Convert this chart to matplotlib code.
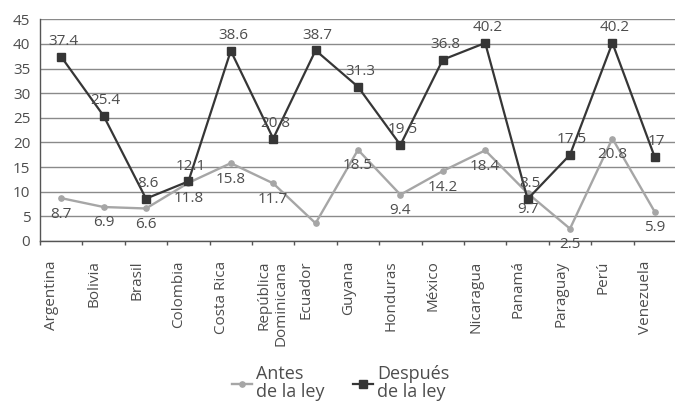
import matplotlib
matplotlib.use("Agg")
import matplotlib.pyplot as plt
from matplotlib.lines import Line2D
from matplotlib.transforms import ScaledTranslation
import numpy as np

plt.rcParams['font.family'] = ['Open Sans', 'DejaVu Sans']

# Countries and percentages before / after the law
paises = ["Argentina", "Bolivia", "Brasil", "Colombia", "Costa Rica",
          "República\nDominicana", "Ecuador", "Guyana", "Honduras", "México",
          "Nicaragua", "Panamá", "Paraguay", "Perú", "Venezuela"]
antes = [8.7, 6.9, 6.6, 11.8, 15.8, 11.7, 3.6, 18.5, 9.4, 14.2, 18.4, 9.7,
         2.5, 20.8, 5.9]
despues = [37.4, 25.4, 8.6, 12.1, 38.6, 20.8, 38.7, 31.3, 19.5, 36.8, 40.2,
           8.5, 17.5, 40.2, 17.0]
# which "antes" points carry a value label
antes_etiqueta = [True, True, True, True, True, True, False, True, True, True,
                  True, True, True, True, True]
y_ticks = [0, 5, 10, 15, 20, 25, 30, 35, 40, 45]

C_DARK = "#363636"
C_GRAY = "#a6a6a6"
C_TEXT = "#4d4d4d"
C_GRID = "#8a8a8a"
FS = 11

W, H = 675, 401
fig = plt.figure(figsize=(W / 100, H / 100), dpi=100)
ax = fig.add_axes([40 / W, (H - 241) / H, 636 / W, (241 - 19.3) / H])

x = np.arange(len(paises))
ax.plot(x, antes, color=C_GRAY, lw=1.7, marker="o", ms=3.8, zorder=3)
ax.plot(x, despues, color=C_DARK, lw=1.6, marker="s", ms=5.6, zorder=4)

# value labels: "después" above, "antes" below
for i, v in enumerate(despues):
    ax.annotate(f"{v:g}", (i, v), xytext=(1.5, 11), textcoords="offset points",
                ha="center", va="center", fontsize=FS, color=C_TEXT, zorder=5)
for i, v in enumerate(antes):
    if antes_etiqueta[i]:
        ax.annotate(f"{v:g}", (i, v), xytext=(0, -11.5), textcoords="offset points",
                    ha="center", va="center", fontsize=FS, color=C_TEXT, zorder=5)

ax.set_xlim(-0.5, len(paises) - 0.5)
ax.set_ylim(0, 45)
ax.set_yticks(y_ticks)
ax.yaxis.grid(True, color=C_GRID, lw=1.0)
ax.set_axisbelow(True)
ax.tick_params(axis="y", length=0, pad=7, labelsize=FS, labelcolor=C_TEXT)

ax.set_xticks(x)
ax.set_xticklabels(paises, rotation=90, ha="left", va="top",
                   multialignment="right", fontsize=FS, color=C_TEXT)
ax.set_xticks(np.arange(-0.5, len(paises), 1), minor=True)
ax.tick_params(axis="x", which="major", length=0, pad=14)
ax.tick_params(axis="x", which="minor", length=3.2, width=1.0, color="#555555")
shift = ScaledTranslation(-0.17, 0, fig.dpi_scale_trans)
for lbl in ax.get_xticklabels():
    lbl.set_transform(lbl.get_transform() + shift)

for s in ["top", "right"]:
    ax.spines[s].set_visible(False)
for s in ["left", "bottom"]:
    ax.spines[s].set_color("#555555")
    ax.spines[s].set_linewidth(1.0)

handles = [Line2D([], [], color=C_GRAY, lw=1.7, marker="o", ms=3.8),
           Line2D([], [], color=C_DARK, lw=1.6, marker="s", ms=5.6)]
leg = fig.legend(handles, ["Antes\nde la ley", "Después\nde la ley"], ncol=2,
                 loc="lower left", bbox_to_anchor=(232 / W, 0.0),
                 frameon=False, fontsize=13, handlelength=1.1,
                 handletextpad=0.25, columnspacing=1.55, borderpad=0,
                 borderaxespad=0)
for t in leg.get_texts():
    t.set_color(C_TEXT)
    t.set_linespacing(1.0)

fig.savefig("out.png", dpi=100)
